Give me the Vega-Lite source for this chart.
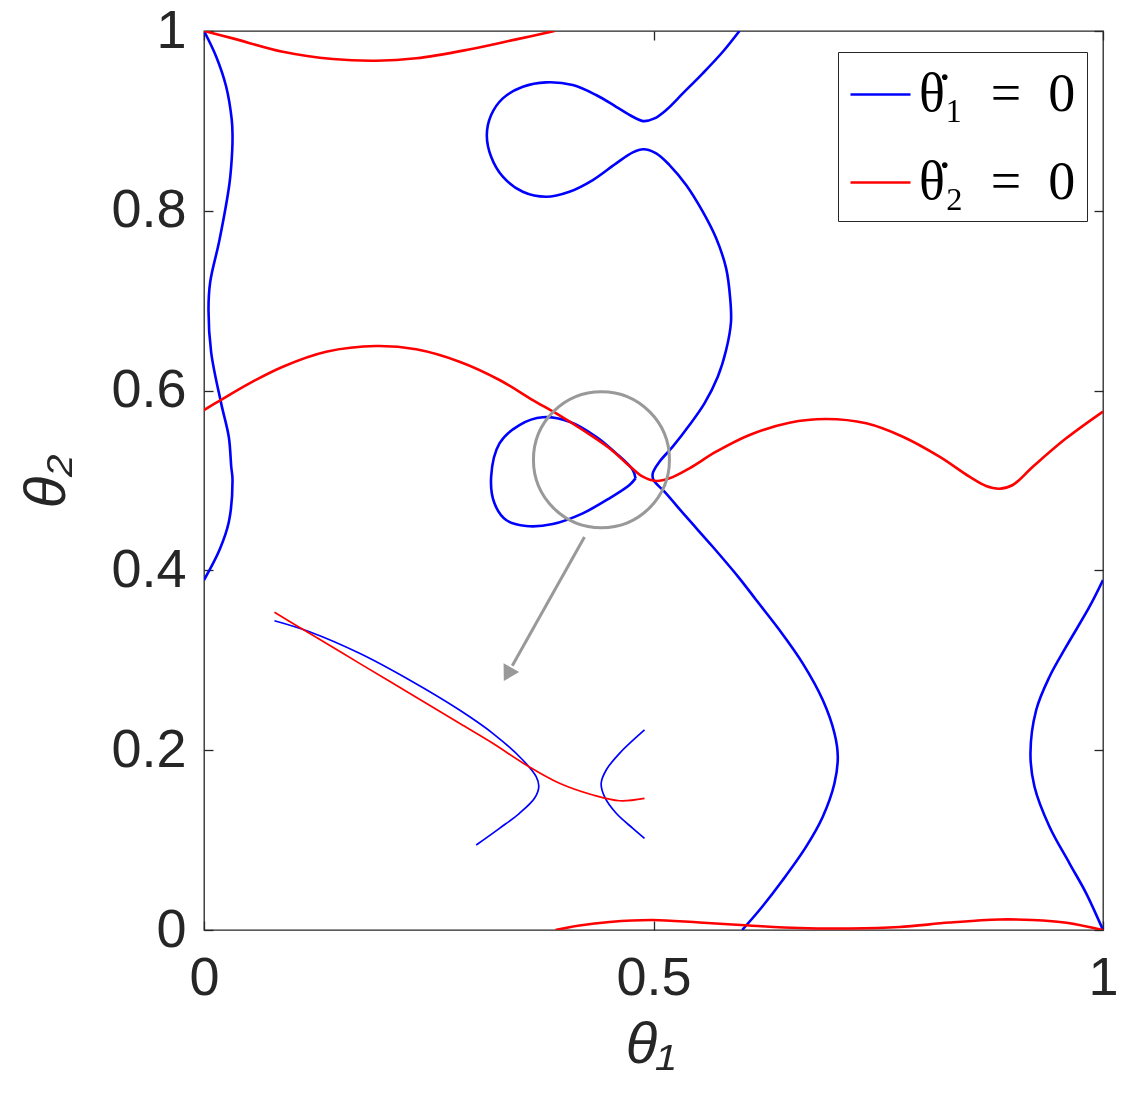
{
  "$schema": "https://vega.github.io/schema/vega-lite/v6.json",
  "width": 899,
  "height": 899,
  "autosize": {"type": "none"},
  "padding": {"left": 204, "top": 31, "right": 27, "bottom": 170},
  "background": "white",
  "datasets": {
    "main": [
      {"c":"\u03b8\u0307\u2081\u2002=\u20020","s":"b1","i":0,"x":0,"y":1},
      {"c":"\u03b8\u0307\u2081\u2002=\u20020","s":"b1","i":1,"x":0.0136,"y":0.9714},
      {"c":"\u03b8\u0307\u2081\u2002=\u20020","s":"b1","i":2,"x":0.0247,"y":0.9380},
      {"c":"\u03b8\u0307\u2081\u2002=\u20020","s":"b1","i":3,"x":0.0309,"y":0.9010},
      {"c":"\u03b8\u0307\u2081\u2002=\u20020","s":"b1","i":4,"x":0.0317,"y":0.8854},
      {"c":"\u03b8\u0307\u2081\u2002=\u20020","s":"b1","i":5,"x":0.0314,"y":0.8676},
      {"c":"\u03b8\u0307\u2081\u2002=\u20020","s":"b1","i":6,"x":0.0284,"y":0.8309},
      {"c":"\u03b8\u0307\u2081\u2002=\u20020","s":"b1","i":7,"x":0.0172,"y":0.7675},
      {"c":"\u03b8\u0307\u2081\u2002=\u20020","s":"b1","i":8,"x":0.0069,"y":0.7208},
      {"c":"\u03b8\u0307\u2081\u2002=\u20020","s":"b1","i":9,"x":0.0050,"y":0.6896},
      {"c":"\u03b8\u0307\u2081\u2002=\u20020","s":"b1","i":10,"x":0.0080,"y":0.6423},
      {"c":"\u03b8\u0307\u2081\u2002=\u20020","s":"b1","i":11,"x":0.0191,"y":0.5858},
      {"c":"\u03b8\u0307\u2081\u2002=\u20020","s":"b1","i":12,"x":0.0276,"y":0.5484},
      {"c":"\u03b8\u0307\u2081\u2002=\u20020","s":"b1","i":13,"x":0.0303,"y":0.5153},
      {"c":"\u03b8\u0307\u2081\u2002=\u20020","s":"b1","i":14,"x":0.0317,"y":0.5011},
      {"c":"\u03b8\u0307\u2081\u2002=\u20020","s":"b1","i":15,"x":0.0276,"y":0.4538},
      {"c":"\u03b8\u0307\u2081\u2002=\u20020","s":"b1","i":16,"x":0.0172,"y":0.4227},
      {"c":"\u03b8\u0307\u2081\u2002=\u20020","s":"b1","i":17,"x":0,"y":0.3893},

      {"c":"\u03b8\u0307\u2081\u2002=\u20020","s":"b2","i":0,"x":1,"y":0.3893},
      {"c":"\u03b8\u0307\u2081\u2002=\u20020","s":"b2","i":1,"x":0.9850,"y":0.3596},
      {"c":"\u03b8\u0307\u2081\u2002=\u20020","s":"b2","i":2,"x":0.9590,"y":0.3151},
      {"c":"\u03b8\u0307\u2081\u2002=\u20020","s":"b2","i":3,"x":0.9405,"y":0.2817},
      {"c":"\u03b8\u0307\u2081\u2002=\u20020","s":"b2","i":4,"x":0.9257,"y":0.2447},
      {"c":"\u03b8\u0307\u2081\u2002=\u20020","s":"b2","i":5,"x":0.9193,"y":0.1965},
      {"c":"\u03b8\u0307\u2081\u2002=\u20020","s":"b2","i":6,"x":0.9238,"y":0.1594},
      {"c":"\u03b8\u0307\u2081\u2002=\u20020","s":"b2","i":7,"x":0.9405,"y":0.1149},
      {"c":"\u03b8\u0307\u2081\u2002=\u20020","s":"b2","i":8,"x":0.9627,"y":0.0742},
      {"c":"\u03b8\u0307\u2081\u2002=\u20020","s":"b2","i":9,"x":0.9813,"y":0.0408},
      {"c":"\u03b8\u0307\u2081\u2002=\u20020","s":"b2","i":10,"x":1,"y":0},

      {"c":"\u03b8\u0307\u2081\u2002=\u20020","s":"b3","i":0,"x":0.5956,"y":1},
      {"c":"\u03b8\u0307\u2081\u2002=\u20020","s":"b3","i":1,"x":0.5771,"y":0.9769},
      {"c":"\u03b8\u0307\u2081\u2002=\u20020","s":"b3","i":2,"x":0.5548,"y":0.9529},
      {"c":"\u03b8\u0307\u2081\u2002=\u20020","s":"b3","i":3,"x":0.5326,"y":0.9306},
      {"c":"\u03b8\u0307\u2081\u2002=\u20020","s":"b3","i":4,"x":0.5141,"y":0.9121},
      {"c":"\u03b8\u0307\u2081\u2002=\u20020","s":"b3","i":5,"x":0.5011,"y":0.9028},
      {"c":"\u03b8\u0307\u2081\u2002=\u20020","s":"b3","i":6,"x":0.4888,"y":0.8998},
      {"c":"\u03b8\u0307\u2081\u2002=\u20020","s":"b3","i":7,"x":0.4770,"y":0.9046},
      {"c":"\u03b8\u0307\u2081\u2002=\u20020","s":"b3","i":8,"x":0.4585,"y":0.9157},
      {"c":"\u03b8\u0307\u2081\u2002=\u20020","s":"b3","i":9,"x":0.4362,"y":0.9288},
      {"c":"\u03b8\u0307\u2081\u2002=\u20020","s":"b3","i":10,"x":0.4102,"y":0.9399},
      {"c":"\u03b8\u0307\u2081\u2002=\u20020","s":"b3","i":11,"x":0.3806,"y":0.9429},
      {"c":"\u03b8\u0307\u2081\u2002=\u20020","s":"b3","i":12,"x":0.3546,"y":0.9380},
      {"c":"\u03b8\u0307\u2081\u2002=\u20020","s":"b3","i":13,"x":0.3324,"y":0.9251},
      {"c":"\u03b8\u0307\u2081\u2002=\u20020","s":"b3","i":14,"x":0.3194,"y":0.9065},
      {"c":"\u03b8\u0307\u2081\u2002=\u20020","s":"b3","i":15,"x":0.3146,"y":0.8843},
      {"c":"\u03b8\u0307\u2081\u2002=\u20020","s":"b3","i":16,"x":0.3194,"y":0.8601},
      {"c":"\u03b8\u0307\u2081\u2002=\u20020","s":"b3","i":17,"x":0.3324,"y":0.8379},
      {"c":"\u03b8\u0307\u2081\u2002=\u20020","s":"b3","i":18,"x":0.3546,"y":0.8212},
      {"c":"\u03b8\u0307\u2081\u2002=\u20020","s":"b3","i":19,"x":0.3806,"y":0.8156},
      {"c":"\u03b8\u0307\u2081\u2002=\u20020","s":"b3","i":20,"x":0.4065,"y":0.8212},
      {"c":"\u03b8\u0307\u2081\u2002=\u20020","s":"b3","i":21,"x":0.4325,"y":0.8342},
      {"c":"\u03b8\u0307\u2081\u2002=\u20020","s":"b3","i":22,"x":0.4585,"y":0.8528},
      {"c":"\u03b8\u0307\u2081\u2002=\u20020","s":"b3","i":23,"x":0.4770,"y":0.8650},
      {"c":"\u03b8\u0307\u2081\u2002=\u20020","s":"b3","i":24,"x":0.4888,"y":0.8684},
      {"c":"\u03b8\u0307\u2081\u2002=\u20020","s":"b3","i":25,"x":0.5030,"y":0.8639},
      {"c":"\u03b8\u0307\u2081\u2002=\u20020","s":"b3","i":26,"x":0.5178,"y":0.8509},
      {"c":"\u03b8\u0307\u2081\u2002=\u20020","s":"b3","i":27,"x":0.5363,"y":0.8287},
      {"c":"\u03b8\u0307\u2081\u2002=\u20020","s":"b3","i":28,"x":0.5548,"y":0.7990},
      {"c":"\u03b8\u0307\u2081\u2002=\u20020","s":"b3","i":29,"x":0.5697,"y":0.7694},
      {"c":"\u03b8\u0307\u2081\u2002=\u20020","s":"b3","i":30,"x":0.5808,"y":0.7360},
      {"c":"\u03b8\u0307\u2081\u2002=\u20020","s":"b3","i":31,"x":0.5853,"y":0.7026},
      {"c":"\u03b8\u0307\u2081\u2002=\u20020","s":"b3","i":32,"x":0.5862,"y":0.6763},
      {"c":"\u03b8\u0307\u2081\u2002=\u20020","s":"b3","i":33,"x":0.5808,"y":0.6451},
      {"c":"\u03b8\u0307\u2081\u2002=\u20020","s":"b3","i":34,"x":0.5715,"y":0.6154},
      {"c":"\u03b8\u0307\u2081\u2002=\u20020","s":"b3","i":35,"x":0.5567,"y":0.5858},
      {"c":"\u03b8\u0307\u2081\u2002=\u20020","s":"b3","i":36,"x":0.5400,"y":0.5617},
      {"c":"\u03b8\u0307\u2081\u2002=\u20020","s":"b3","i":37,"x":0.5214,"y":0.5376},
      {"c":"\u03b8\u0307\u2081\u2002=\u20020","s":"b3","i":38,"x":0.5067,"y":0.5209},
      {"c":"\u03b8\u0307\u2081\u2002=\u20020","s":"b3","i":39,"x":0.4992,"y":0.5080},
      {"c":"\u03b8\u0307\u2081\u2002=\u20020","s":"b3","i":40,"x":0.5000,"y":0.5005},
      {"c":"\u03b8\u0307\u2081\u2002=\u20020","s":"b3","i":41,"x":0.5122,"y":0.4875},
      {"c":"\u03b8\u0307\u2081\u2002=\u20020","s":"b3","i":42,"x":0.5363,"y":0.4597},
      {"c":"\u03b8\u0307\u2081\u2002=\u20020","s":"b3","i":43,"x":0.5659,"y":0.4263},
      {"c":"\u03b8\u0307\u2081\u2002=\u20020","s":"b3","i":44,"x":0.5956,"y":0.3912},
      {"c":"\u03b8\u0307\u2081\u2002=\u20020","s":"b3","i":45,"x":0.6142,"y":0.3671},
      {"c":"\u03b8\u0307\u2081\u2002=\u20020","s":"b3","i":46,"x":0.6401,"y":0.3337},
      {"c":"\u03b8\u0307\u2081\u2002=\u20020","s":"b3","i":47,"x":0.6660,"y":0.2966},
      {"c":"\u03b8\u0307\u2081\u2002=\u20020","s":"b3","i":48,"x":0.6883,"y":0.2558},
      {"c":"\u03b8\u0307\u2081\u2002=\u20020","s":"b3","i":49,"x":0.7013,"y":0.2188},
      {"c":"\u03b8\u0307\u2081\u2002=\u20020","s":"b3","i":50,"x":0.7050,"y":0.1928},
      {"c":"\u03b8\u0307\u2081\u2002=\u20020","s":"b3","i":51,"x":0.7013,"y":0.1632},
      {"c":"\u03b8\u0307\u2081\u2002=\u20020","s":"b3","i":52,"x":0.6883,"y":0.1260},
      {"c":"\u03b8\u0307\u2081\u2002=\u20020","s":"b3","i":53,"x":0.6698,"y":0.0927},
      {"c":"\u03b8\u0307\u2081\u2002=\u20020","s":"b3","i":54,"x":0.6438,"y":0.0556},
      {"c":"\u03b8\u0307\u2081\u2002=\u20020","s":"b3","i":55,"x":0.6179,"y":0.0222},
      {"c":"\u03b8\u0307\u2081\u2002=\u20020","s":"b3","i":56,"x":0.5986,"y":0},

      {"c":"\u03b8\u0307\u2081\u2002=\u20020","s":"b4","i":0,"x":0.4800,"y":0.5024},
      {"c":"\u03b8\u0307\u2081\u2002=\u20020","s":"b4","i":1,"x":0.4770,"y":0.5117},
      {"c":"\u03b8\u0307\u2081\u2002=\u20020","s":"b4","i":2,"x":0.4585,"y":0.5302},
      {"c":"\u03b8\u0307\u2081\u2002=\u20020","s":"b4","i":3,"x":0.4362,"y":0.5487},
      {"c":"\u03b8\u0307\u2081\u2002=\u20020","s":"b4","i":4,"x":0.4065,"y":0.5654},
      {"c":"\u03b8\u0307\u2081\u2002=\u20020","s":"b4","i":5,"x":0.3768,"y":0.5703},
      {"c":"\u03b8\u0307\u2081\u2002=\u20020","s":"b4","i":6,"x":0.3509,"y":0.5617},
      {"c":"\u03b8\u0307\u2081\u2002=\u20020","s":"b4","i":7,"x":0.3287,"y":0.5413},
      {"c":"\u03b8\u0307\u2081\u2002=\u20020","s":"b4","i":8,"x":0.3194,"y":0.5042},
      {"c":"\u03b8\u0307\u2081\u2002=\u20020","s":"b4","i":9,"x":0.3231,"y":0.4746},
      {"c":"\u03b8\u0307\u2081\u2002=\u20020","s":"b4","i":10,"x":0.3361,"y":0.4560},
      {"c":"\u03b8\u0307\u2081\u2002=\u20020","s":"b4","i":11,"x":0.3584,"y":0.4494},
      {"c":"\u03b8\u0307\u2081\u2002=\u20020","s":"b4","i":12,"x":0.3880,"y":0.4516},
      {"c":"\u03b8\u0307\u2081\u2002=\u20020","s":"b4","i":13,"x":0.4213,"y":0.4635},
      {"c":"\u03b8\u0307\u2081\u2002=\u20020","s":"b4","i":14,"x":0.4510,"y":0.4802},
      {"c":"\u03b8\u0307\u2081\u2002=\u20020","s":"b4","i":15,"x":0.4733,"y":0.4950},
      {"c":"\u03b8\u0307\u2081\u2002=\u20020","s":"b4","i":16,"x":0.4800,"y":0.5024},

      {"c":"\u03b8\u0307\u2082\u2002=\u20020","s":"r1","i":0,"x":0,"y":1},
      {"c":"\u03b8\u0307\u2082\u2002=\u20020","s":"r1","i":1,"x":0.0320,"y":0.9918},
      {"c":"\u03b8\u0307\u2082\u2002=\u20020","s":"r1","i":2,"x":0.0877,"y":0.9769},
      {"c":"\u03b8\u0307\u2082\u2002=\u20020","s":"r1","i":3,"x":0.1433,"y":0.9688},
      {"c":"\u03b8\u0307\u2082\u2002=\u20020","s":"r1","i":4,"x":0.1915,"y":0.9669},
      {"c":"\u03b8\u0307\u2082\u2002=\u20020","s":"r1","i":5,"x":0.2360,"y":0.9696},
      {"c":"\u03b8\u0307\u2082\u2002=\u20020","s":"r1","i":6,"x":0.2916,"y":0.9788},
      {"c":"\u03b8\u0307\u2082\u2002=\u20020","s":"r1","i":7,"x":0.3473,"y":0.9907},
      {"c":"\u03b8\u0307\u2082\u2002=\u20020","s":"r1","i":8,"x":0.3899,"y":1},

      {"c":"\u03b8\u0307\u2082\u2002=\u20020","s":"r2","i":0,"x":0,"y":0.5784},
      {"c":"\u03b8\u0307\u2082\u2002=\u20020","s":"r2","i":1,"x":0.0172,"y":0.5887},
      {"c":"\u03b8\u0307\u2082\u2002=\u20020","s":"r2","i":2,"x":0.0506,"y":0.6081},
      {"c":"\u03b8\u0307\u2082\u2002=\u20020","s":"r2","i":3,"x":0.0877,"y":0.6266},
      {"c":"\u03b8\u0307\u2082\u2002=\u20020","s":"r2","i":4,"x":0.1359,"y":0.6432},
      {"c":"\u03b8\u0307\u2082\u2002=\u20020","s":"r2","i":5,"x":0.1915,"y":0.6496},
      {"c":"\u03b8\u0307\u2082\u2002=\u20020","s":"r2","i":6,"x":0.2360,"y":0.6459},
      {"c":"\u03b8\u0307\u2082\u2002=\u20020","s":"r2","i":7,"x":0.2842,"y":0.6321},
      {"c":"\u03b8\u0307\u2082\u2002=\u20020","s":"r2","i":8,"x":0.3287,"y":0.6118},
      {"c":"\u03b8\u0307\u2082\u2002=\u20020","s":"r2","i":9,"x":0.3657,"y":0.5895},
      {"c":"\u03b8\u0307\u2082\u2002=\u20020","s":"r2","i":10,"x":0.3918,"y":0.5747},
      {"c":"\u03b8\u0307\u2082\u2002=\u20020","s":"r2","i":11,"x":0.4213,"y":0.5562},
      {"c":"\u03b8\u0307\u2082\u2002=\u20020","s":"r2","i":12,"x":0.4510,"y":0.5358},
      {"c":"\u03b8\u0307\u2082\u2002=\u20020","s":"r2","i":13,"x":0.4733,"y":0.5161},
      {"c":"\u03b8\u0307\u2082\u2002=\u20020","s":"r2","i":14,"x":0.4881,"y":0.5042},
      {"c":"\u03b8\u0307\u2082\u2002=\u20020","s":"r2","i":15,"x":0.5030,"y":0.4994},
      {"c":"\u03b8\u0307\u2082\u2002=\u20020","s":"r2","i":16,"x":0.5178,"y":0.5024},
      {"c":"\u03b8\u0307\u2082\u2002=\u20020","s":"r2","i":17,"x":0.5400,"y":0.5136},
      {"c":"\u03b8\u0307\u2082\u2002=\u20020","s":"r2","i":18,"x":0.5697,"y":0.5320},
      {"c":"\u03b8\u0307\u2082\u2002=\u20020","s":"r2","i":19,"x":0.6068,"y":0.5506},
      {"c":"\u03b8\u0307\u2082\u2002=\u20020","s":"r2","i":20,"x":0.6512,"y":0.5643},
      {"c":"\u03b8\u0307\u2082\u2002=\u20020","s":"r2","i":21,"x":0.6921,"y":0.5684},
      {"c":"\u03b8\u0307\u2082\u2002=\u20020","s":"r2","i":22,"x":0.7366,"y":0.5636},
      {"c":"\u03b8\u0307\u2082\u2002=\u20020","s":"r2","i":23,"x":0.7773,"y":0.5487},
      {"c":"\u03b8\u0307\u2082\u2002=\u20020","s":"r2","i":24,"x":0.8181,"y":0.5265},
      {"c":"\u03b8\u0307\u2082\u2002=\u20020","s":"r2","i":25,"x":0.8515,"y":0.5042},
      {"c":"\u03b8\u0307\u2082\u2002=\u20020","s":"r2","i":26,"x":0.8700,"y":0.4939},
      {"c":"\u03b8\u0307\u2082\u2002=\u20020","s":"r2","i":27,"x":0.8848,"y":0.4909},
      {"c":"\u03b8\u0307\u2082\u2002=\u20020","s":"r2","i":28,"x":0.8996,"y":0.4950},
      {"c":"\u03b8\u0307\u2082\u2002=\u20020","s":"r2","i":29,"x":0.9219,"y":0.5153},
      {"c":"\u03b8\u0307\u2082\u2002=\u20020","s":"r2","i":30,"x":0.9590,"y":0.5469},
      {"c":"\u03b8\u0307\u2082\u2002=\u20020","s":"r2","i":31,"x":1,"y":0.5767},

      {"c":"\u03b8\u0307\u2082\u2002=\u20020","s":"r3","i":0,"x":0.3910,"y":0},
      {"c":"\u03b8\u0307\u2082\u2002=\u20020","s":"r3","i":1,"x":0.4177,"y":0.0050},
      {"c":"\u03b8\u0307\u2082\u2002=\u20020","s":"r3","i":2,"x":0.4510,"y":0.0089},
      {"c":"\u03b8\u0307\u2082\u2002=\u20020","s":"r3","i":3,"x":0.4989,"y":0.0111},
      {"c":"\u03b8\u0307\u2082\u2002=\u20020","s":"r3","i":4,"x":0.5511,"y":0.0083},
      {"c":"\u03b8\u0307\u2082\u2002=\u20020","s":"r3","i":5,"x":0.6068,"y":0.0050},
      {"c":"\u03b8\u0307\u2082\u2002=\u20020","s":"r3","i":6,"x":0.6624,"y":0.0022},
      {"c":"\u03b8\u0307\u2082\u2002=\u20020","s":"r3","i":7,"x":0.7180,"y":0.0017},
      {"c":"\u03b8\u0307\u2082\u2002=\u20020","s":"r3","i":8,"x":0.7736,"y":0.0033},
      {"c":"\u03b8\u0307\u2082\u2002=\u20020","s":"r3","i":9,"x":0.8292,"y":0.0083},
      {"c":"\u03b8\u0307\u2082\u2002=\u20020","s":"r3","i":10,"x":0.8848,"y":0.0117},
      {"c":"\u03b8\u0307\u2082\u2002=\u20020","s":"r3","i":11,"x":0.9216,"y":0.0111},
      {"c":"\u03b8\u0307\u2082\u2002=\u20020","s":"r3","i":12,"x":0.9594,"y":0.0081},
      {"c":"\u03b8\u0307\u2082\u2002=\u20020","s":"r3","i":13,"x":1,"y":0}
    ],
    "inset": [
      {"c":"\u03b8\u0307\u2081\u2002=\u20020","s":"i1","i":0,"x":0.0784,"y":0.3440},
      {"c":"\u03b8\u0307\u2081\u2002=\u20020","s":"i1","i":1,"x":0.1173,"y":0.3318},
      {"c":"\u03b8\u0307\u2081\u2002=\u20020","s":"i1","i":2,"x":0.1730,"y":0.3078},
      {"c":"\u03b8\u0307\u2081\u2002=\u20020","s":"i1","i":3,"x":0.2286,"y":0.2781},
      {"c":"\u03b8\u0307\u2081\u2002=\u20020","s":"i1","i":4,"x":0.2842,"y":0.2447},
      {"c":"\u03b8\u0307\u2081\u2002=\u20020","s":"i1","i":5,"x":0.3212,"y":0.2188},
      {"c":"\u03b8\u0307\u2081\u2002=\u20020","s":"i1","i":6,"x":0.3546,"y":0.1891},
      {"c":"\u03b8\u0307\u2081\u2002=\u20020","s":"i1","i":7,"x":0.3695,"y":0.1705},
      {"c":"\u03b8\u0307\u2081\u2002=\u20020","s":"i1","i":8,"x":0.3724,"y":0.1594},
      {"c":"\u03b8\u0307\u2081\u2002=\u20020","s":"i1","i":9,"x":0.3676,"y":0.1465},
      {"c":"\u03b8\u0307\u2081\u2002=\u20020","s":"i1","i":10,"x":0.3509,"y":0.1298},
      {"c":"\u03b8\u0307\u2081\u2002=\u20020","s":"i1","i":11,"x":0.3287,"y":0.1131},
      {"c":"\u03b8\u0307\u2081\u2002=\u20020","s":"i1","i":12,"x":0.3028,"y":0.0945},

      {"c":"\u03b8\u0307\u2081\u2002=\u20020","s":"i3","i":0,"x":0.4900,"y":0.2225},
      {"c":"\u03b8\u0307\u2081\u2002=\u20020","s":"i3","i":1,"x":0.4622,"y":0.1965},
      {"c":"\u03b8\u0307\u2081\u2002=\u20020","s":"i3","i":2,"x":0.4474,"y":0.1780},
      {"c":"\u03b8\u0307\u2081\u2002=\u20020","s":"i3","i":3,"x":0.4418,"y":0.1632},
      {"c":"\u03b8\u0307\u2081\u2002=\u20020","s":"i3","i":4,"x":0.4455,"y":0.1483},
      {"c":"\u03b8\u0307\u2081\u2002=\u20020","s":"i3","i":5,"x":0.4585,"y":0.1298},
      {"c":"\u03b8\u0307\u2081\u2002=\u20020","s":"i3","i":6,"x":0.4770,"y":0.1131},
      {"c":"\u03b8\u0307\u2081\u2002=\u20020","s":"i3","i":7,"x":0.4900,"y":0.1020},

      {"c":"\u03b8\u0307\u2082\u2002=\u20020","s":"i2","i":0,"x":0.0784,"y":0.3534},
      {"c":"\u03b8\u0307\u2082\u2002=\u20020","s":"i2","i":1,"x":0.1173,"y":0.3300},
      {"c":"\u03b8\u0307\u2082\u2002=\u20020","s":"i2","i":2,"x":0.1730,"y":0.2966},
      {"c":"\u03b8\u0307\u2082\u2002=\u20020","s":"i2","i":3,"x":0.2286,"y":0.2633},
      {"c":"\u03b8\u0307\u2082\u2002=\u20020","s":"i2","i":4,"x":0.2842,"y":0.2299},
      {"c":"\u03b8\u0307\u2082\u2002=\u20020","s":"i2","i":5,"x":0.3212,"y":0.2077},
      {"c":"\u03b8\u0307\u2082\u2002=\u20020","s":"i2","i":6,"x":0.3584,"y":0.1835},
      {"c":"\u03b8\u0307\u2082\u2002=\u20020","s":"i2","i":7,"x":0.3954,"y":0.1632},
      {"c":"\u03b8\u0307\u2082\u2002=\u20020","s":"i2","i":8,"x":0.4325,"y":0.1502},
      {"c":"\u03b8\u0307\u2082\u2002=\u20020","s":"i2","i":9,"x":0.4622,"y":0.1438},
      {"c":"\u03b8\u0307\u2082\u2002=\u20020","s":"i2","i":10,"x":0.4900,"y":0.1465}
    ],
    "circle": [{"x": 0.4421, "y": 0.5231}],
    "arrow": [{"i": 0, "x": 0.4232, "y": 0.4371}, {"i": 1, "x": 0.3429, "y": 0.2939}],
    "head": [{"x": 0.3377, "y": 0.2844}]
  },
  "layer": [
    {
      "data": {"name": "main"},
      "mark": {"type": "line", "strokeWidth": 2.6, "clip": true, "interpolate": "catmull-rom"},
      "encoding": {
        "x": {"field": "x", "type": "quantitative",
          "scale": {"domain": [0, 1], "nice": false, "zero": false},
          "axis": {"orient": "bottom", "values": [0, 0.5, 1], "format": "~g", "labelFlush": false,
            "title": "\u03b8\u2081", "titleX": 446, "titleY": 132, "titleAlign": "center", "titleBaseline": "alphabetic", "labelPadding": 30}},
        "y": {"field": "y", "type": "quantitative",
          "scale": {"domain": [0, 1], "nice": false, "zero": false},
          "axis": {"orient": "left", "values": [0, 0.2, 0.4, 0.6, 0.8, 1], "format": "~g",
            "title": "\u03b8\u2082", "titleX": -157, "titleY": 450, "titleAngle": -90, "titleAlign": "center", "titleBaseline": "middle", "labelPadding": 27}},
        "color": {"field": "c", "type": "nominal",
          "scale": {"domain": ["\u03b8\u0307\u2081\u2002=\u20020", "\u03b8\u0307\u2082\u2002=\u20020"], "range": ["#0000ff", "#ff0000"]},
          "legend": {"orient": "none", "legendX": 634, "legendY": 21, "title": null,
            "symbolType": "stroke", "symbolSize": 3600, "symbolStrokeWidth": 2.6,
            "labelFont": "Liberation Serif", "labelFontSize": 54, "labelColor": "#000000",
            "labelOffset": 7, "labelLimit": 500, "padding": 11, "rowPadding": 29,
            "strokeColor": "#262626", "fillColor": "#ffffff", "cornerRadius": 0}},
        "detail": {"field": "s", "type": "nominal"},
        "order": {"field": "i", "type": "quantitative"}
      }
    },
    {
      "data": {"name": "inset"},
      "mark": {"type": "line", "strokeWidth": 1.7, "interpolate": "catmull-rom"},
      "encoding": {
        "x": {"field": "x", "type": "quantitative", "axis": null},
        "y": {"field": "y", "type": "quantitative", "axis": null},
        "color": {"field": "c", "type": "nominal", "legend": null},
        "detail": {"field": "s", "type": "nominal"},
        "order": {"field": "i", "type": "quantitative"}
      }
    },
    {
      "data": {"name": "circle"},
      "mark": {"type": "point", "shape": "circle", "filled": false, "stroke": "#999999", "strokeWidth": 3, "size": 18496, "opacity": 1},
      "encoding": {
        "x": {"field": "x", "type": "quantitative",
          "axis": {"orient": "top", "values": [0, 0.5, 1], "labels": false, "title": null}},
        "y": {"field": "y", "type": "quantitative",
          "axis": {"orient": "right", "values": [0, 0.2, 0.4, 0.6, 0.8, 1], "labels": false, "title": null}}
      }
    },
    {
      "data": {"name": "arrow"},
      "mark": {"type": "line", "color": "#999999", "strokeWidth": 3},
      "encoding": {
        "x": {"field": "x", "type": "quantitative", "axis": null},
        "y": {"field": "y", "type": "quantitative", "axis": null},
        "order": {"field": "i", "type": "quantitative"}
      }
    },
    {
      "data": {"name": "head"},
      "mark": {"type": "point", "shape": "triangle-up", "filled": true, "color": "#999999", "size": 320, "angle": 209.3, "opacity": 1},
      "encoding": {
        "x": {"field": "x", "type": "quantitative", "axis": null},
        "y": {"field": "y", "type": "quantitative", "axis": null}
      }
    }
  ],
  "resolve": {"axis": {"x": "independent", "y": "independent"}},
  "config": {
    "view": {"stroke": "#262626", "strokeWidth": 1.3},
    "axis": {
      "domain": false, "grid": false,
      "tickColor": "#262626", "tickWidth": 1.3, "tickSize": -9,
      "labelFont": "Liberation Sans", "labelFontSize": 54, "labelColor": "#262626", "labelOverlap": false,
      "titleFont": "Liberation Sans", "titleFontSize": 58, "titleFontStyle": "italic", "titleFontWeight": "normal", "titleColor": "#262626"
    }
  }
}
